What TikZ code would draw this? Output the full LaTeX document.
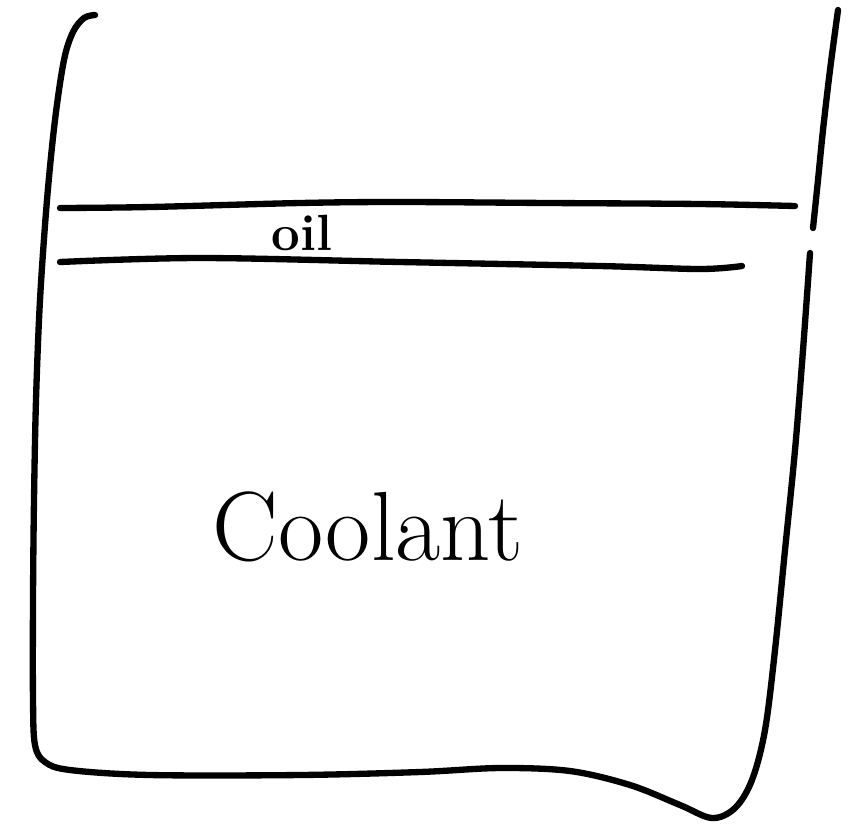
\documentclass[tikz,border=0pt]{standalone}
\begin{document}
\begin{tikzpicture}[x=0.02cm,y=-0.02cm,
  ink/.style={line width=3.6pt,line cap=round,line join=round,black},
  label/.style={inner sep=0pt,font=\fontsize{#1}{#1}\selectfont}]
\useasboundingbox (0,0) rectangle (865,823);
% container walls and bottom
\draw[ink] plot[smooth,tension=0.55] coordinates {(95,15) (84,18) (73,32) (64,60) (55,120) (47,200) (40,300) (36,400) (34,500) (33,600) (33,700) (35,745) (45,762) (70,770) (150,775) (300,775) (420,772) (500,768) (570,771) (630,785) (680,805) (712,818) (735,808) (752,780) (765,730) (775,650) (785,550) (795,450) (803,350) (810,253)};
\draw[ink] plot[smooth,tension=0.55] coordinates {(838,10) (830,70) (823,130) (818,180) (813,228)};
% oil layer
\draw[ink] plot[smooth,tension=0.55] coordinates {(60,208) (150,207) (300,203) (400,202) (550,203) (700,204) (795,206)};
\draw[ink] plot[smooth,tension=0.55] coordinates {(60,262) (200,258) (400,262) (600,266) (700,269) (742,266)};
% labels
\node[label=29] (oil) at (302,233) {\bfseries oil};
\node[label=56] (coolant) at (368,527) {Coolant};
\end{tikzpicture}
\end{document}
